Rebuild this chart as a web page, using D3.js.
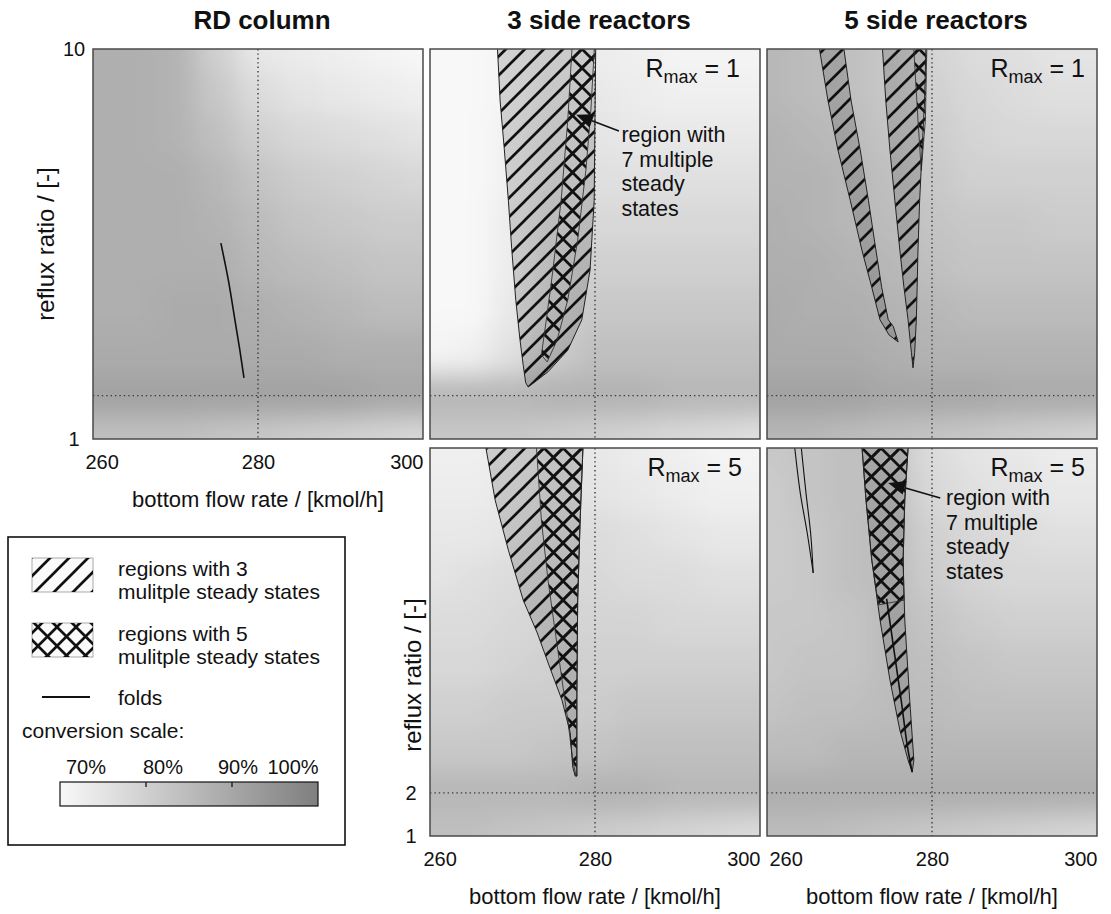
<!DOCTYPE html>
<html>
<head>
<meta charset="utf-8">
<script src="https://cdn.jsdelivr.net/npm/d3@7"></script>
<style>
  html, body { margin: 0; padding: 0; background: #fff; }
  svg { display: block; font-family: "Liberation Sans", Arial, Helvetica, sans-serif; }
</style>
</head>
<body>
<svg id="chart" width="1111" height="914"></svg>
<script>
// ---- axes ----
const xDomain = [260, 300];
const yDomain = [1, 10];
const xTicks = [260, 280, 300];
const yTicksTop = [1, 10];
const yTicksBottom = [1, 2];
const refFlow = 280;     // dotted reference flow rate
const refReflux = 2;     // dotted reference reflux ratio

// ---- conversion field samples (%), rows: reflux ratio, columns: bottom flow rate ----
const gridFlow = [260, 265, 270, 275, 280, 285, 290, 295, 300];
const gridReflux = [10, 9, 8, 7, 6, 5, 4, 3, 2, 1];

const convRD = [
  [88, 88, 87, 80, 74, 73, 72, 71, 70],
  [88, 88, 87, 82, 77, 75, 74, 73, 72],
  [88, 88, 87, 84, 80, 78, 77, 76, 75],
  [88, 88, 88, 86, 83, 81, 80, 79, 78],
  [88, 88, 88, 87, 85, 83, 82, 81, 81],
  [88, 88, 88, 88, 86, 85, 84, 83, 83],
  [88, 88, 89, 89, 88, 87, 86, 85, 85],
  [89, 89, 89, 89, 89, 89, 88, 88, 88],
  [91, 91, 91, 91, 91, 91, 91, 90, 90],
  [84, 84, 84, 83, 82, 81, 80, 79, 78]
];
const convS3R1 = [
  [70, 70, 71, 73, 73, 72, 71, 71, 71],
  [70, 70, 71, 74, 74, 73, 72, 72, 72],
  [70, 70, 72, 75, 75, 74, 74, 74, 74],
  [70, 70, 72, 76, 76, 76, 76, 76, 76],
  [70, 70, 73, 77, 78, 78, 78, 78, 78],
  [70, 70, 73, 78, 80, 80, 80, 80, 80],
  [70, 70, 74, 79, 82, 82, 82, 82, 82],
  [71, 72, 76, 81, 84, 84, 84, 84, 84],
  [86, 86, 86, 87, 87, 87, 86, 86, 86],
  [82, 82, 82, 81, 80, 79, 78, 77, 76]
];
const convS5R1 = [
  [86, 85, 84, 82, 79, 77, 76, 75, 75],
  [86, 85, 84, 82, 80, 78, 77, 76, 76],
  [87, 86, 85, 83, 81, 79, 78, 78, 78],
  [87, 87, 86, 84, 82, 80, 80, 80, 80],
  [88, 87, 86, 85, 83, 82, 82, 81, 81],
  [88, 88, 87, 86, 84, 83, 83, 83, 83],
  [89, 88, 88, 87, 86, 85, 85, 85, 85],
  [89, 89, 89, 88, 87, 87, 87, 87, 87],
  [91, 91, 91, 90, 90, 90, 89, 89, 89],
  [86, 86, 85, 84, 83, 82, 81, 80, 79]
];
const convS3R5 = [
  [72, 72, 73, 75, 74, 73, 72, 71, 71],
  [73, 73, 74, 76, 75, 74, 73, 72, 72],
  [74, 74, 75, 77, 77, 76, 75, 74, 74],
  [75, 76, 77, 78, 78, 77, 77, 76, 76],
  [77, 77, 78, 79, 79, 79, 78, 78, 78],
  [78, 78, 79, 80, 80, 80, 80, 80, 80],
  [80, 80, 81, 81, 81, 82, 82, 82, 82],
  [82, 82, 82, 83, 83, 84, 84, 84, 84],
  [86, 86, 86, 86, 87, 87, 86, 86, 86],
  [84, 84, 83, 82, 81, 80, 79, 78, 77]
];
const convS5R5 = [
  [82, 83, 84, 83, 77, 75, 74, 73, 73],
  [81, 83, 84, 84, 78, 76, 75, 74, 74],
  [81, 82, 84, 85, 80, 78, 77, 76, 76],
  [81, 82, 84, 85, 81, 79, 78, 78, 78],
  [82, 82, 83, 85, 83, 81, 80, 80, 80],
  [82, 83, 83, 85, 84, 83, 82, 82, 82],
  [83, 84, 84, 85, 85, 84, 84, 84, 84],
  [85, 85, 86, 86, 86, 86, 86, 86, 86],
  [88, 88, 88, 88, 88, 88, 88, 88, 88],
  [85, 85, 84, 83, 82, 81, 80, 79, 78]
];

// ---- regions of multiple steady states, [flow rate, reflux ratio] ----
const mss3S3R1 = [[268.1,10.3],[268.5,8.8],[269.0,7.7],[269.5,6.5],[269.9,5.4],[270.4,4.2],[270.9,3.3],[271.3,2.7],[271.6,2.3],[271.9,2.2],[272.4,2.27],[274.3,2.55],[276.7,3.05],[278.4,3.75],[279.4,4.9],[279.9,6.5],[280.0,8.4],[280.1,10.3]];
const mss5S3R1 = [[277.3,10.3],[276.7,8.36],[275.9,6.52],[274.9,4.9],[274.1,3.75],[273.5,2.94],[274.2,2.78],[275.4,3.28],[276.7,4.21],[277.9,5.59],[278.9,7.21],[279.5,8.59],[280.0,10.3]];

const mss3S5R1a = [[266.1,10.3],[267.4,8.8],[268.6,7.67],[270.1,6.5],[271.5,5.36],[272.7,4.5],[273.7,3.75],[274.8,3.4],[275.9,3.24],[275.3,3.6],[274.7,3.75],[273.9,4.5],[273.2,5.36],[272.3,6.5],[271.3,7.67],[270.2,8.8],[269.1,10.3]];
const mss3S5R1b = [[273.9,10.3],[274.4,8.8],[274.9,7.67],[275.5,6.5],[276.1,5.36],[276.6,4.5],[277.1,3.75],[277.5,3.0],[277.7,2.64],[277.9,3.0],[278.1,3.75],[278.2,4.5],[278.3,5.36],[278.5,6.5],[278.8,7.67],[279.1,8.8],[279.3,10.3]];
const mss5S5R1 = [[277.7,10.3],[278.3,8.36],[278.7,7.2],[279.2,8.36],[279.4,10.3]];

const mss3S3R5 = [[266.5,10.3],[267.9,8.79],[269.5,7.63],[271.3,6.47],[273.0,5.71],[274.5,4.92],[276.0,4.15],[277.0,3.39],[277.3,2.6],[277.6,2.39],[277.8,2.39],[277.8,4.15],[277.9,6.47],[278.2,8.33],[278.6,10.3]];
const mss5S3R5 = [[272.8,10.3],[273.5,8.33],[274.3,6.94],[275.2,5.71],[276.0,4.62],[276.7,3.69],[277.3,2.76],[277.7,2.39],[277.8,2.39],[277.8,4.15],[277.9,6.47],[278.2,8.33],[278.6,10.3]];

const mss3S5R5 = [[271.4,10.3],[272.0,8.79],[272.7,7.40],[273.7,6.01],[274.9,4.62],[276.1,3.46],[277.1,2.76],[277.6,2.48],[277.8,2.76],[277.3,4.15],[276.7,6.01],[276.5,7.40],[276.7,8.79],[277.2,10.3]];
const mss5S5R5 = [[271.4,10.3],[272.0,8.79],[272.7,7.40],[273.5,6.36],[276.6,6.47],[276.5,7.40],[276.7,8.79],[277.2,10.3]];

// ---- fold curves ----
const foldRD = [[275.5,5.52],[276.4,4.67],[277.2,3.75],[277.8,3.05],[278.3,2.41]];
const foldS5R5a = [[263.2,10.3],[264.0,9.0],[264.9,8.0],[265.6,7.1]];
const foldS5R5b = [[264.0,10.3],[264.7,9.0],[265.3,8.0],[265.6,7.1]];
const foldS5R5c = [[274.5,6.5],[275.4,5.3],[276.3,4.1],[277.0,3.1],[277.6,2.48]];

// ---- legend scale ----
const scaleTicks = [70, 80, 90, 100];

// =====================================================================
const svg = d3.select("#chart");
const defs = svg.append("defs");
const grey = d3.scaleLinear().domain([70, 100]).range(["#f8f8f8", "#7f7f7f"]).clamp(true);

// hatch patterns
const hatchFwd = defs.append("pattern").attr("id", "hatchFwd")
  .attr("patternUnits", "userSpaceOnUse").attr("width", 19).attr("height", 19);
hatchFwd.append("path")
  .attr("d", "M-4.75,4.75 L4.75,-4.75 M0,19 L19,0 M14.25,23.75 L23.75,14.25")
  .attr("stroke", "#111").attr("stroke-width", 2.7).attr("fill", "none");
const hatchBack = defs.append("pattern").attr("id", "hatchBack")
  .attr("patternUnits", "userSpaceOnUse").attr("width", 19).attr("height", 19);
hatchBack.append("path")
  .attr("d", "M-4.75,14.25 L4.75,23.75 M0,0 L19,19 M14.25,-4.75 L23.75,4.75")
  .attr("stroke", "#111").attr("stroke-width", 2.7).attr("fill", "none");

// soft field filter
defs.append("filter").attr("id", "soft")
  .attr("x", -0.2).attr("y", -0.2).attr("width", 1.4).attr("height", 1.4)
  .append("feGaussianBlur").attr("stdDeviation", 13);

const panelW = 330;
const panels = [
  { id: "rd", left: 93, top: 49, h: 390, field: convRD, title: "RD column",
    mss3: [], mss5: [], folds: [foldRD], xAxis: true, firstTickDx: -8, yTicks: yTicksTop,
    yTitle: { x: 46, y: 244 } },
  { id: "s3r1", left: 430, top: 49, h: 390, field: convS3R1, title: "3 side reactors",
    rmax: "1", rmaxX: 740, mss3: [mss3S3R1], mss5: [mss5S3R1], folds: [],
    note: { tip: [277.7, 8.48], tail: [282.9, 8.11], at: [283.2, 7.85] } },
  { id: "s5r1", left: 767, top: 49, h: 390, field: convS5R1, title: "5 side reactors",
    rmax: "1", rmaxX: 1085, mss3: [mss3S5R1a, mss3S5R1b], mss5: [mss5S5R1], folds: [] },
  { id: "s3r5", left: 430, top: 448, h: 388, field: convS3R5,
    rmax: "5", rmaxX: 742, mss3: [mss3S3R5], mss5: [mss5S3R5], folds: [], xAxis: true,
    firstTickDx: -7, yTicks: yTicksBottom, yTitle: { x: 413, y: 675 } },
  { id: "s5r5", left: 767, top: 448, h: 388, field: convS5R5,
    rmax: "5", rmaxX: 1085, mss3: [mss3S5R5], mss5: [mss5S5R5],
    folds: [foldS5R5a, foldS5R5b, foldS5R5c], xAxis: true, firstTickDx: 2,
    note: { tip: [274.7, 9.19], tail: [281.0, 8.84], at: [281.7, 8.67] } }
];

const noteLines = ["region with", "7 multiple", "steady", "states"];

panels.forEach(p => {
  const x = d3.scaleLinear().domain(xDomain).range([0, panelW]);
  const y = d3.scaleLinear().domain(yDomain).range([p.h, 0]);
  const g = svg.append("g").attr("transform", `translate(${p.left},${p.top})`);

  defs.append("clipPath").attr("id", "clip-" + p.id)
    .append("rect").attr("width", panelW).attr("height", p.h);

  const inner = g.append("g").attr("clip-path", `url(#clip-${p.id})`);
  inner.append("rect").attr("width", panelW).attr("height", p.h).attr("fill", grey(80));

  // conversion field
  const cells = [];
  p.field.forEach((row, j) => row.forEach((v, i) => {
    const f = gridFlow[i], r = gridReflux[j];
    const f0 = i === 0 ? f - 12 : f - 2.5;
    const f1 = i === gridFlow.length - 1 ? f + 12 : f + 2.5;
    const r1 = j === 0 ? r + 3 : r + 0.5;
    const r0 = j === gridReflux.length - 1 ? r - 3 : r - 0.5;
    cells.push({ f0, f1, r0, r1, v });
  }));
  inner.append("g").attr("filter", "url(#soft)")
    .selectAll("rect").data(cells).join("rect")
    .attr("x", d => x(d.f0)).attr("y", d => y(d.r1))
    .attr("width", d => x(d.f1) - x(d.f0) + 0.6)
    .attr("height", d => y(d.r0) - y(d.r1) + 0.6)
    .attr("fill", d => grey(d.v));

  // reference lines
  inner.append("line")
    .attr("x1", x(refFlow)).attr("x2", x(refFlow)).attr("y1", 0).attr("y2", p.h)
    .attr("stroke", "#3a3a3a").attr("stroke-width", 1.4).attr("stroke-dasharray", "1.4 3");
  inner.append("line")
    .attr("x1", 0).attr("x2", panelW).attr("y1", y(refReflux)).attr("y2", y(refReflux))
    .attr("stroke", "#3a3a3a").attr("stroke-width", 1.4).attr("stroke-dasharray", "1.4 3");

  const area = d3.line().x(d => x(d[0])).y(d => y(d[1])).curve(d3.curveLinearClosed);
  const path = d3.line().x(d => x(d[0])).y(d => y(d[1])).curve(d3.curveCatmullRom);

  // regions with 3 steady states
  p.mss3.forEach(poly => {
    inner.append("path").attr("d", area(poly)).attr("fill", "rgba(0,0,0,0.14)");
    inner.append("path").attr("d", area(poly)).attr("fill", "url(#hatchFwd)");
  });
  // regions with 5 steady states
  p.mss5.forEach(poly => {
    inner.append("path").attr("d", area(poly)).attr("fill", "url(#hatchFwd)");
    inner.append("path").attr("d", area(poly)).attr("fill", "url(#hatchBack)");
    inner.append("path").attr("d", area(poly)).attr("fill", "none")
      .attr("stroke", "#333").attr("stroke-width", 0.9);
  });
  p.mss3.forEach(poly => {
    inner.append("path").attr("d", area(poly)).attr("fill", "none")
      .attr("stroke", "#222").attr("stroke-width", 1);
  });
  // folds
  p.folds.forEach((fl, k) => {
    inner.append("path").attr("d", path(fl)).attr("fill", "none")
      .attr("stroke", "#111").attr("stroke-width", p.id === "s5r5" && k < 2 ? 1.1 : 1.6);
  });

  // frame
  g.append("rect").attr("width", panelW).attr("height", p.h)
    .attr("fill", "none").attr("stroke", "#4a4a4a").attr("stroke-width", 1.5);

  // title
  if (p.title) {
    svg.append("text").attr("x", p.left + panelW / 2 + 4).attr("y", 29)
      .attr("text-anchor", "middle").attr("font-size", 26).attr("font-weight", "bold")
      .attr("fill", "#111").text(p.title);
  }

  // R_max label
  if (p.rmax) {
    const t = svg.append("text").attr("x", p.rmaxX).attr("y", p.top + 28)
      .attr("text-anchor", "end").attr("font-size", 25).attr("fill", "#111");
    t.append("tspan").text("R");
    t.append("tspan").attr("dy", 6).attr("font-size", 18).text("max");
    t.append("tspan").attr("dy", -6).text(" = " + p.rmax);
  }

  // x axis
  if (p.xAxis) {
    const ax = g.append("g").attr("transform", `translate(0,${p.h})`)
      .call(d3.axisBottom(x).tickValues(xTicks).tickSize(0).tickPadding(16).tickFormat(d3.format("d")));
    ax.select(".domain").remove();
    ax.selectAll("text").attr("font-size", 20).attr("fill", "#111")
      .attr("font-family", "Liberation Sans, Arial, sans-serif")
      .attr("text-anchor", d => d === xDomain[0] ? "start" : d === xDomain[1] ? "end" : "middle")
      .attr("dx", d => d === xDomain[0] ? p.firstTickDx : 0);
    g.append("text").attr("x", panelW / 2).attr("y", p.h + 68)
      .attr("text-anchor", "middle").attr("font-size", 22).attr("fill", "#111")
      .text("bottom flow rate / [kmol/h]");
  }

  // y axis
  if (p.yTicks) {
    const ay = g.append("g")
      .call(d3.axisLeft(y).tickValues(p.yTicks).tickSize(0).tickPadding(8).tickFormat(d3.format("d")));
    ay.select(".domain").remove();
    ay.selectAll("text").attr("font-size", 20).attr("fill", "#111")
      .attr("font-family", "Liberation Sans, Arial, sans-serif")
      .attr("text-anchor", "middle").attr("x", -19);
    svg.append("text")
      .attr("transform", `translate(${p.yTitle.x},${p.yTitle.y}) rotate(-90)`)
      .attr("text-anchor", "middle").attr("dy", "0.35em")
      .attr("font-size", 24).attr("fill", "#111").text("reflux ratio / [-]");
  }

  // annotation
  if (p.note) {
    const [tx, ty] = [x(p.note.tip[0]), y(p.note.tip[1])];
    const [sx, sy] = [x(p.note.tail[0]), y(p.note.tail[1])];
    const ang = Math.atan2(ty - sy, tx - sx);
    const L = 17, W = 7;
    const bx = tx - L * Math.cos(ang), by = ty - L * Math.sin(ang);
    g.append("line").attr("x1", sx).attr("y1", sy).attr("x2", bx).attr("y2", by)
      .attr("stroke", "#111").attr("stroke-width", 1.6);
    g.append("path")
      .attr("d", `M${tx},${ty} L${bx - W * Math.sin(ang)},${by + W * Math.cos(ang)} L${bx + W * Math.sin(ang)},${by - W * Math.cos(ang)} Z`)
      .attr("fill", "#111");
    const txt = g.append("text").attr("x", x(p.note.at[0])).attr("y", y(p.note.at[1]))
      .attr("font-size", 21.5).attr("fill", "#111");
    noteLines.forEach((s, i) => txt.append("tspan")
      .attr("x", x(p.note.at[0])).attr("dy", i === 0 ? 0 : 24.5).text(s));
  }
});

// ---- legend ----
const lg = svg.append("g");
lg.append("rect").attr("x", 8).attr("y", 537).attr("width", 337).attr("height", 308)
  .attr("fill", "#fff").attr("stroke", "#111").attr("stroke-width", 1.6);

function swatch(y0, back) {
  lg.append("rect").attr("x", 32).attr("y", y0).attr("width", 61).attr("height", 34)
    .attr("fill", "#fafafa").attr("stroke", "#aaa").attr("stroke-width", 1);
  lg.append("rect").attr("x", 32).attr("y", y0).attr("width", 61).attr("height", 34)
    .attr("fill", "url(#hatchFwd)");
  if (back) lg.append("rect").attr("x", 32).attr("y", y0).attr("width", 61).attr("height", 34)
    .attr("fill", "url(#hatchBack)");
}
swatch(558, false);
swatch(623, true);

const legendText = [
  ["regions with 3", 576], ["mulitple steady states", 599],
  ["regions with 5", 641], ["mulitple steady states", 664],
  ["folds", 705]
];
legendText.forEach(([s, yy]) => lg.append("text").attr("x", 118).attr("y", yy)
  .attr("font-size", 21).attr("fill", "#111").text(s));
lg.append("line").attr("x1", 42).attr("x2", 90).attr("y1", 697).attr("y2", 697)
  .attr("stroke", "#111").attr("stroke-width", 1.8);

lg.append("text").attr("x", 22).attr("y", 738).attr("font-size", 21).attr("fill", "#111")
  .text("conversion scale:");

const grad = defs.append("linearGradient").attr("id", "convGrad");
scaleTicks.forEach(v => grad.append("stop")
  .attr("offset", (v - 70) / 30).attr("stop-color", grey(v)));
const cx = d3.scaleLinear().domain([70, 100]).range([60, 318]);
lg.append("rect").attr("x", cx(70)).attr("y", 782).attr("width", cx(100) - cx(70)).attr("height", 24)
  .attr("fill", "url(#convGrad)").attr("stroke", "#111").attr("stroke-width", 1.2);
lg.selectAll(".ctick").data(scaleTicks.slice(1, -1)).join("line")
  .attr("x1", d => cx(d)).attr("x2", d => cx(d)).attr("y1", 782).attr("y2", 787)
  .attr("stroke", "#222").attr("stroke-width", 1.4);
const labelX = { 70: 86, 80: 163, 90: 238, 100: 293 };
lg.selectAll(".clab").data(scaleTicks).join("text")
  .attr("x", d => labelX[d]).attr("y", 774).attr("text-anchor", "middle")
  .attr("font-size", 20).attr("fill", "#111").text(d => d + "%");
</script>
</body>
</html>
